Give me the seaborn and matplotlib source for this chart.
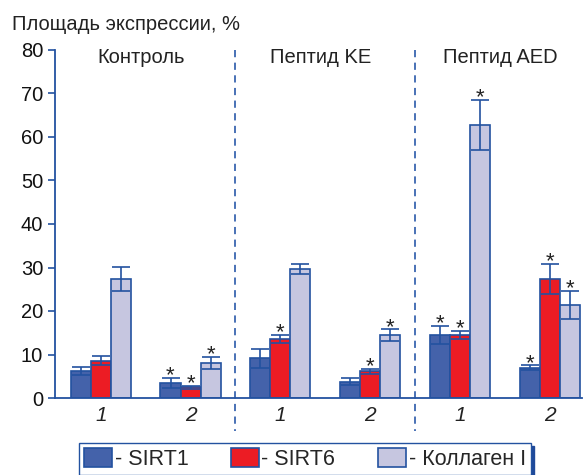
import numpy as np
import pandas as pd
import matplotlib.pyplot as plt
import seaborn as sns
from matplotlib.patches import Patch

sns.set_style('white')
plt.rcParams['font.family'] = ['Liberation Sans', 'DejaVu Sans']

groups = ['Контроль', 'Пептид KE', 'Пептид AED']
sub_labels = ['1', '2', '1', '2', '1', '2']
markers = ['SIRT1', 'SIRT6', 'Коллаген I']
sirt1 = [6.2, 3.5, 9.1, 3.75, 14.5, 7.0]
sirt1_err = [1.0, 1.1, 2.2, 0.8, 2.1, 0.5]
sirt6 = [8.6, 2.45, 13.6, 6.1, 14.5, 27.4]
sirt6_err = [1.1, 0.3, 0.85, 0.6, 1.0, 3.5]
coll = [27.4, 8.0, 29.7, 14.5, 62.8, 21.4]
coll_err = [2.8, 1.4, 1.1, 1.3, 5.8, 3.2]
sirt1_star = [0, 1, 0, 0, 1, 1]
sirt6_star = [0, 1, 1, 1, 1, 1]
coll_star = [0, 1, 0, 1, 1, 1]

slots = [f'{i}' for i in range(6)]
df = pd.DataFrame({
    'slot': slots * 3,
    'marker': [markers[0]] * 6 + [markers[1]] * 6 + [markers[2]] * 6,
    'value': sirt1 + sirt6 + coll,
    'err': sirt1_err + sirt6_err + coll_err,
    'star': sirt1_star + sirt6_star + coll_star,
})

blue = '#2352a0'
colors = ['#4462aa', '#ec1c24', '#c6c6e0']

fig = plt.figure(figsize=(5.86, 4.75), dpi=100)
ax = fig.add_axes([55 / 586, 77 / 475, 527 / 586, 348 / 475])

sns.barplot(data=df, x='slot', y='value', hue='marker', order=slots, hue_order=markers,
            palette=colors, width=0.67, errorbar=None, edgecolor=blue, linewidth=1.2,
            saturation=1, ax=ax, legend=False)

# error bars and stars from bar patches
for container, m in zip(ax.containers, markers):
    sub = df[df['marker'] == m].set_index('slot').loc[slots]
    for bar, (_, row) in zip(container.patches, sub.iterrows()):
        xc = bar.get_x() + bar.get_width() / 2
        h = bar.get_height()
        ax.errorbar(xc, h, yerr=row['err'], color=blue, capsize=6.5, elinewidth=1.2,
                    capthick=1.2, zorder=5)
        if row['star']:
            ax.text(xc, h + row['err'] - 0.8, '*', ha='center', va='baseline', fontsize=16,
                    color='#222222')

ax.set_xlim(-0.51, 5.36)
ax.set_ylim(0, 80)
ax.set_yticks(range(0, 81, 10))
ax.set_xticks(range(6))
ax.set_xticklabels(sub_labels, fontsize=15, style='italic', color='#222222')
ax.tick_params(axis='x', length=0, pad=6)
ax.tick_params(axis='y', length=5, width=1.2, color=blue, labelsize=14.5, labelcolor='#111111', left=True)
ax.set_xlabel('')
ax.set_ylabel('')
for s in ['top', 'right']:
    ax.spines[s].set_visible(False)
for s in ['left', 'bottom']:
    ax.spines[s].set_color(blue)
    ax.spines[s].set_linewidth(1.3)

# dashed separators
for xs in [1.5, 3.5]:
    ax.plot([xs, xs], [80, -7.5], ls=(0, (4, 3)), color='#3a66b0', lw=1.3, clip_on=False)

for i, g in enumerate(groups):
    ax.text(2 * i + 0.45, 78.2, g, ha='center', va='center', fontsize=14.5, color='#222222')

fig.text(12 / 586, 1 - 25 / 475, 'Площадь экспрессии, %', ha='left', va='center',
         fontsize=14.5, color='#222222')

handles = [Patch(facecolor=c, edgecolor=blue, linewidth=1.2) for c in colors]
leg = fig.legend(handles, ['- ' + m for m in markers], loc='upper left',
                 bbox_to_anchor=(79 / 586, 1 - 443 / 475),
                 ncol=3, fontsize=15.5, frameon=True, fancybox=False,
                 handlelength=1.3, handleheight=0.95, handletextpad=0.1, columnspacing=2.0,
                 borderaxespad=0, borderpad=0.25,
                 shadow={'color': '#1f4a9a', 'alpha': 1})
leg.get_frame().set_edgecolor(blue)
leg.get_frame().set_linewidth(1.0)

fig.savefig('out.png', dpi=100)
